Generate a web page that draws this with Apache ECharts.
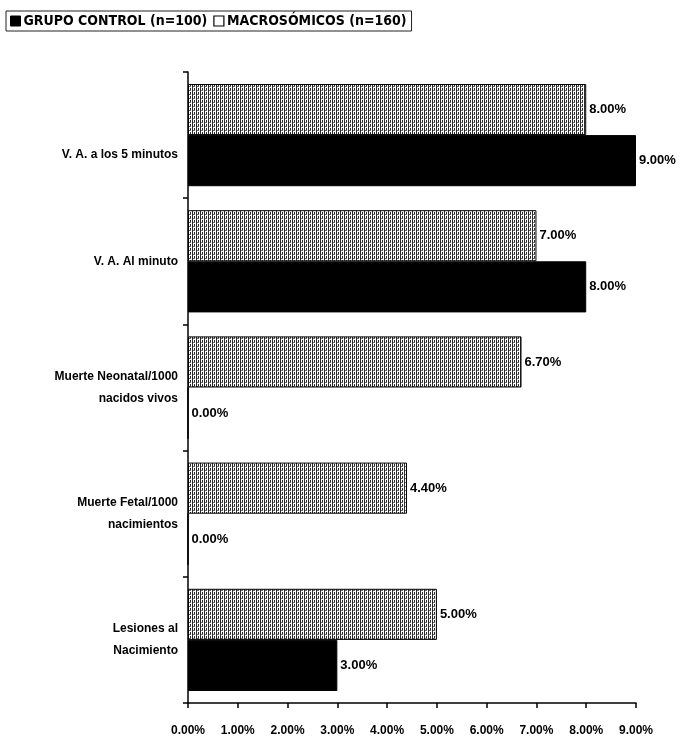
<!DOCTYPE html>
<html>
<head>
<meta charset="utf-8">
<script src="https://cdn.jsdelivr.net/npm/echarts@6/dist/echarts.min.js"></script>
<style>
html,body{margin:0;padding:0;background:#fff;}
#chart{width:681px;height:745px;}
</style>
</head>
<body>
<div id="chart"></div>
<script>
// Data (top to bottom as shown)
const categories = [
  'V. A. a los 5 minutos',
  'V. A. Al minuto',
  'Muerte Neonatal/1000\nnacidos vivos',
  'Muerte Fetal/1000\nnacimientos',
  'Lesiones al\nNacimiento'
];
const seriesNames = ['GRUPO CONTROL (n=100)', 'MACROSÓMICOS (n=160)'];
const controlValues = [9.00, 8.00, 0.00, 0.00, 3.00];
const macroValues = [8.00, 7.00, 6.70, 4.40, 5.00];
const axisMin = 0, axisMax = 9, axisStep = 1;

// hatch pattern for the Macrosómicos bars
function makePattern() {
  const c = document.createElement('canvas');
  c.width = 4; c.height = 4;
  const g = c.getContext('2d');
  g.fillStyle = '#ffffff';
  g.fillRect(0, 0, 4, 4);
  g.fillStyle = '#2a2a2a';
  g.fillRect(0, 0, 1, 4);
  g.fillRect(2, 0, 1, 3);
  g.fillStyle = '#666666';
  g.fillRect(1, 2, 2, 1);
  return c;
}

const chart = echarts.init(document.getElementById('chart'));
const fontFam = '"Liberation Sans", Arial, sans-serif';
const fmt = v => Number(v).toFixed(2) + '%';

chart.setOption({
  animation: false,
  backgroundColor: '#ffffff',
  legend: {
    left: 6, top: 11,
    data: [
      {name: seriesNames[0], itemStyle: {color: '#000', borderColor: '#000', borderWidth: 1}},
      {name: seriesNames[1], itemStyle: {color: '#fff', borderColor: '#000', borderWidth: 1.2}}
    ],
    icon: 'rect',
    itemWidth: 10, itemHeight: 10,
    itemGap: 6,
    padding: [3, 5, 3, 4],
    borderColor: '#222', borderWidth: 1,
    textStyle: {fontFamily: '"DejaVu Sans Condensed", sans-serif', fontWeight: 'bold', fontSize: 14, color: '#000', padding: [1, 0, 0, -2]}
  },
  grid: {left: 188, right: 45, top: 72, bottom: 42, containLabel: false},
  xAxis: {
    type: 'value', min: axisMin, max: axisMax, interval: axisStep,
    axisLine: {show: true, lineStyle: {color: '#000', width: 1.5}},
    axisTick: {show: true, length: 5, lineStyle: {color: '#000', width: 1.5}},
    splitLine: {show: false},
    axisLabel: {formatter: fmt, margin: 22, color: '#000', fontFamily: fontFam, fontWeight: 'bold', fontSize: 12}
  },
  yAxis: {
    type: 'category', inverse: true,
    data: categories,
    axisLine: {show: true, lineStyle: {color: '#000', width: 1.5}},
    axisTick: {show: true, length: 5, lineStyle: {color: '#000', width: 1.5}},
    axisLabel: {
      margin: 10, color: '#000', fontFamily: fontFam, fontWeight: 'bold', fontSize: 12, lineHeight: 22, align: 'right',
      formatter: (v, i) => i === 0 ? '{low|' + v + '}' : v,
      rich: {low: {padding: [40, 0, 0, 0], color: '#000', fontFamily: fontFam, fontWeight: 'bold', fontSize: 12, lineHeight: 22}}
    }
  },
  series: [
    {
      name: seriesNames[1], type: 'bar', data: macroValues,
      barGap: '0%', barCategoryGap: '19%',
      itemStyle: {color: {image: makePattern(), repeat: 'repeat'}, borderColor: '#000', borderWidth: 1},
      label: {show: true, position: 'right', distance: 3, formatter: p => fmt(p.value), color: '#000', fontFamily: fontFam, fontWeight: 'bold', fontSize: 13}
    },
    {
      name: seriesNames[0], type: 'bar', data: controlValues,
      barGap: '0%', barCategoryGap: '19%',
      itemStyle: {color: '#000', borderColor: '#000', borderWidth: 1},
      label: {show: true, position: 'right', distance: 3, formatter: p => fmt(p.value), color: '#000', fontFamily: fontFam, fontWeight: 'bold', fontSize: 13}
    }
  ]
});
</script>
</body>
</html>
